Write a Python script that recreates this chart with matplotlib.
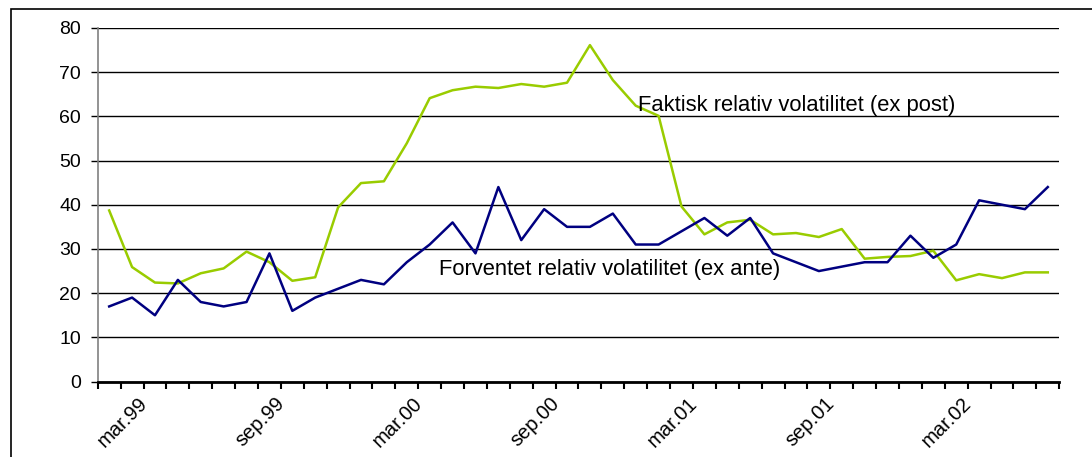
import matplotlib
matplotlib.use('Agg')
import matplotlib.pyplot as plt
import matplotlib.patches as patches
import matplotlib.transforms as mtransforms
import numpy as np

plt.rcParams['font.family'] = ['Liberation Sans', 'DejaVu Sans']

# monthly observations, feb.99 - jul.02
month_names = ['jan', 'feb', 'mar', 'apr', 'mai', 'jun', 'jul', 'aug', 'sep', 'okt', 'nov', 'des']
months = [f'{m}.{y}' for y in ['99', '00', '01', '02'] for m in month_names][1:43]

ex_ante = [17, 19, 15, 23, 18, 17, 18, 29, 16, 19,
           21, 23, 22, 27, 31, 36, 29, 44, 32, 39,
           35, 35, 38, 31, 31, 34, 37, 33, 37, 29,
           27, 25, 26, 27, 27, 33, 28, 31, 41, 40,
           39, 44]
ex_post = [38.7, 25.9, 22.4, 22.2, 24.5, 25.6, 29.4, 27.0, 22.8, 23.6,
           39.4, 44.9, 45.3, 53.9, 64.1, 65.9, 66.7, 66.4, 67.3, 66.7,
           67.6, 76.1, 68.2, 62.4, 60.1, 39.6, 33.3, 36.0, 36.6, 33.3,
           33.6, 32.7, 34.5, 27.8, 28.2, 28.4, 29.6, 22.9, 24.3, 23.4,
           24.7, 24.7]
tick_labels = ['mar.99', 'sep.99', 'mar.00', 'sep.00', 'mar.01', 'sep.01', 'mar.02']

green = '#99CC00'
navy = '#000080'

fig = plt.figure(figsize=(10.92, 4.57), dpi=100)
ax = fig.add_axes([0.0895, 0.165, 0.8805, 0.774])

x = np.arange(len(months))
ax.plot(x, ex_post, color=green, linewidth=1.8, zorder=3)
ax.plot(x, ex_ante, color=navy, linewidth=1.8, zorder=4)

ax.set_xlim(-0.5, len(months) - 0.5)
ax.set_ylim(0, 80)
ax.set_yticks(range(0, 81, 10))
ax.yaxis.grid(True, color='black', linewidth=1.0)
ax.set_axisbelow(True)

# category boundaries get the tick marks, labels sit on the month itself
ax.set_xticks(np.arange(len(months) + 1) - 0.5)
ax.set_xticklabels([])
ax.set_xticks([months.index(t) for t in tick_labels], minor=True)
ax.set_xticklabels(tick_labels, minor=True, rotation=45, ha='right', va='top')
ax.tick_params(axis='x', which='major', direction='out', length=5, width=1.5, color='black')
ax.tick_params(axis='x', which='minor', length=0, labelsize=14.5, pad=9)
ax.tick_params(axis='y', direction='out', length=5, width=1, labelsize=14, color='black', pad=7)

shift = mtransforms.ScaledTranslation(0.19, 0, fig.dpi_scale_trans)
for lab in ax.get_xticklabels(minor=True):
    lab.set_transform(lab.get_transform() + shift)

for key in ['top', 'right']:
    ax.spines[key].set_visible(False)
ax.spines['left'].set_color('#808080')
ax.spines['left'].set_linewidth(1.2)
ax.spines['bottom'].set_color('black')
ax.spines['bottom'].set_linewidth(2)

ax.text(23.1, 62.4, 'Faktisk relativ volatilitet (ex post)', fontsize=15.8, va='center', ha='left', zorder=5)
ax.text(14.4, 25.3, 'Forventet relativ volatilitet (ex ante)', fontsize=15.8, va='center', ha='left', zorder=5)

# chart area frame
frame = patches.Rectangle((11 / 1092, -0.2), 1.2, 1.2 - 9 / 457, transform=fig.transFigure,
                          fill=False, edgecolor='black', linewidth=1.2, clip_on=False)
fig.patches.append(frame)

plt.savefig('out.png', dpi=100)
